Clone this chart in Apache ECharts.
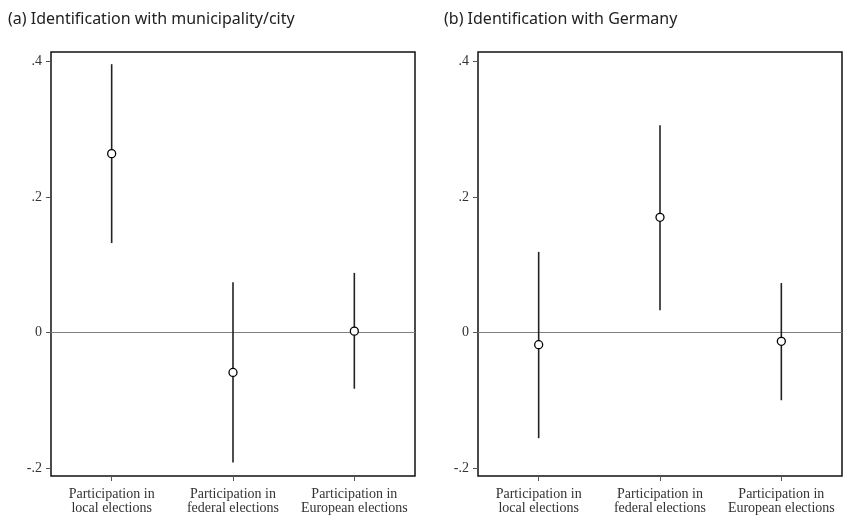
<!DOCTYPE html>
<html><head><meta charset="utf-8">
<script src="https://cdn.jsdelivr.net/npm/echarts@6/dist/echarts.min.js"></script>
<style>html,body{margin:0;padding:0;background:#fff}#c{width:844px;height:517px}</style>
</head><body><div id="c"></div>
<script>
const categories = ['Participation in\nlocal elections', 'Participation in\nfederal elections', 'Participation in\nEuropean elections'];
const panelTitles = ['(a) Identification with municipality/city', '(b) Identification with Germany'];
const yTicks = [-0.2, 0, 0.2, 0.4];
const yTickLabels = ['-.2', '0', '.2', '.4'];
// panel (a)
const cityEst = [0.264, -0.059, 0.002];
const cityLow = [0.132, -0.192, -0.083];
const cityHigh = [0.396, 0.074, 0.088];
// panel (b)
const gerEst = [-0.018, 0.170, -0.013];
const gerLow = [-0.156, 0.033, -0.100];
const gerHigh = [0.119, 0.306, 0.073];

const chart = echarts.init(document.getElementById('c'));
const serif = 'Liberation Serif';
const grids = [
  {left: 51, right: 429, top: 52, bottom: 41},
  {left: 478, right: 2, top: 52, bottom: 41}
];
function xAxis(i) {
  return {type: 'category', gridIndex: i, data: categories, boundaryGap: true,
    axisLine: {show: false, onZero: false},
    axisTick: {show: true, alignWithLabel: true, length: 5, lineStyle: {color: '#555', width: 1}},
    axisLabel: {interval: 0, fontFamily: serif, fontSize: 14, color: '#333', margin: 11, lineHeight: 14.5},
    splitLine: {show: false}};
}
function yAxis(i) {
  return {type: 'value', gridIndex: i, min: -0.2118, max: 0.414,
    axisLine: {show: false},
    axisTick: {show: true, customValues: yTicks, length: 5, lineStyle: {color: '#555', width: 1}},
    axisLabel: {customValues: yTicks, fontFamily: serif, fontSize: 14, color: '#333', margin: 9,
      formatter: v => { const k = yTicks.findIndex(t => Math.abs(t - v) < 1e-9); return k >= 0 ? yTickLabels[k] : ''; }},
    splitLine: {show: false}};
}
function errSeries(i, low, high) {
  return {type: 'custom', xAxisIndex: i, yAxisIndex: i,
    data: low.map((l, k) => [k, l, high[k]]),
    renderItem: (params, api) => {
      const p1 = api.coord([api.value(0), api.value(1)]);
      const p2 = api.coord([api.value(0), api.value(2)]);
      return {type: 'line', shape: {x1: p1[0], y1: p1[1], x2: p2[0], y2: p2[1]},
        style: {stroke: '#222', lineWidth: 1.6}};
    }, z: 3, silent: true};
}
function ptSeries(i, est) {
  return {type: 'scatter', xAxisIndex: i, yAxisIndex: i, data: est.map((v, k) => [k, v]),
    symbol: 'circle', symbolSize: 8,
    itemStyle: {color: '#fff', borderColor: '#000', borderWidth: 1.3, opacity: 1}, z: 5, silent: true,
    markLine: {silent: true, symbol: 'none', label: {show: false},
      lineStyle: {color: '#808080', width: 1, type: 'solid'}, data: [{yAxis: 0}], z: 1}};
}
const titleStyle = {fontFamily: 'Noto Sans', fontSize: 16, fontWeight: 'normal', color: '#222'};
chart.setOption({
  animation: false,
  backgroundColor: '#fff',
  title: [
    {text: panelTitles[0], left: 8, top: 11, padding: 0, textStyle: titleStyle},
    {text: panelTitles[1], left: 444, top: 11, padding: 0, textStyle: titleStyle}
  ],
  grid: grids.map(g => Object.assign({show: true, borderColor: '#111', borderWidth: 1.5, backgroundColor: '#fff'}, g)),
  xAxis: [xAxis(0), xAxis(1)],
  yAxis: [yAxis(0), yAxis(1)],
  series: [errSeries(0, cityLow, cityHigh), ptSeries(0, cityEst), errSeries(1, gerLow, gerHigh), ptSeries(1, gerEst)]
});
</script></body></html>
